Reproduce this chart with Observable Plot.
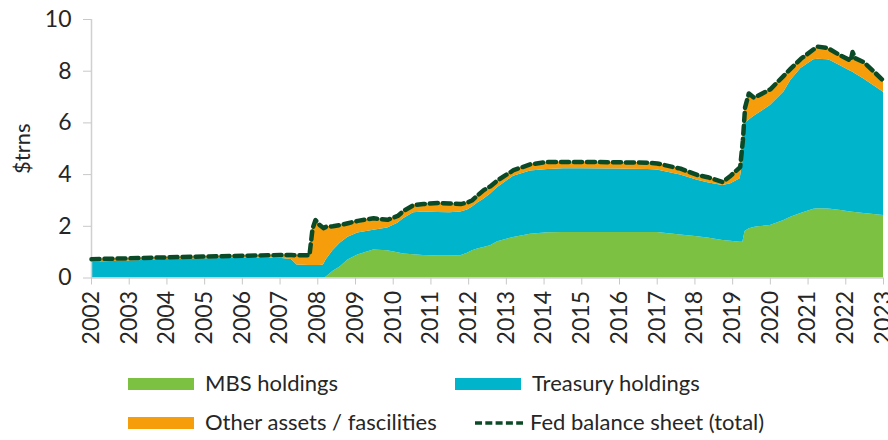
<!DOCTYPE html>
<html>
<head>
<meta charset="utf-8">
<script src="https://cdn.jsdelivr.net/npm/d3@7"></script>
<script src="https://cdn.jsdelivr.net/npm/@observablehq/plot@0.6"></script>
<style>
  html, body { margin: 0; padding: 0; background: #fff; }
  #wrap { position: relative; width: 888px; height: 440px; font-family: Lato, "Open Sans", sans-serif; color: #262626; }
  .sw { position: absolute; height: 12px; }
  .lt { position: absolute; font-size: 22px; line-height: 22px; white-space: nowrap; }
  .dash { position: absolute; }
</style>
</head>
<body>
<div id="wrap"></div>
<script>
// Chart x coordinates (as drawn against the year ticks)
const years = [2002.0, 2003.0, 2004.0, 2005.0, 2006.0, 2007.0, 2007.3, 2007.45, 2007.78, 2007.86,
  2007.94, 2008.05, 2008.15, 2008.22, 2008.4, 2008.6, 2008.8, 2009.06, 2009.48, 2009.85,
  2010.12, 2010.28, 2010.54, 2010.8, 2011.18, 2011.5, 2011.79, 2011.97, 2012.1, 2012.24,
  2012.4, 2012.58, 2012.77, 2013.19, 2013.64, 2014.1, 2014.52, 2015.0, 2015.85, 2016.75,
  2017.0, 2017.62, 2018.07, 2018.34, 2018.74, 2018.95, 2019.2, 2019.27, 2019.33, 2019.43,
  2019.56, 2019.67, 2020.0, 2020.36, 2020.54, 2020.81, 2021.15, 2021.26, 2021.52, 2021.6,
  2021.87, 2022.13, 2022.18, 2022.25, 2022.48, 2023.0];

// $ trillions
const mbs = [0, 0, 0, 0, 0, 0, 0, 0, 0, 0,
  0, 0, 0, 0.03, 0.25, 0.44, 0.70, 0.89, 1.08, 1.05,
  0.98, 0.93, 0.90, 0.87, 0.85, 0.85, 0.86, 0.96, 1.05, 1.12,
  1.18, 1.25, 1.40, 1.57, 1.69, 1.75, 1.76, 1.76, 1.76, 1.76,
  1.76, 1.66, 1.60, 1.55, 1.45, 1.42, 1.38, 1.38, 1.80, 1.90,
  1.95, 1.98, 2.03, 2.22, 2.35, 2.50, 2.66, 2.68, 2.67, 2.66,
  2.61, 2.55, 2.54, 2.53, 2.50, 2.42];

const treasury = [0.62, 0.66, 0.72, 0.74, 0.76, 0.76, 0.72, 0.50, 0.48, 0.48,
  0.48, 0.48, 0.50, 0.67, 0.80, 0.91, 0.88, 0.85, 0.77, 0.88,
  1.14, 1.37, 1.62, 1.68, 1.68, 1.67, 1.69, 1.67, 1.70, 1.78,
  1.87, 2.00, 2.10, 2.37, 2.45, 2.45, 2.47, 2.47, 2.46, 2.44,
  2.42, 2.32, 2.18, 2.13, 2.13, 2.23, 2.46, 3.12, 4.16, 4.20,
  4.30, 4.37, 4.64, 4.98, 5.29, 5.60, 5.78, 5.78, 5.77, 5.74,
  5.59, 5.45, 5.43, 5.37, 5.20, 4.77];

const other = [0.11, 0.10, 0.08, 0.09, 0.10, 0.13, 0.17, 0.38, 0.40, 1.42,
  1.76, 1.57, 1.43, 1.28, 0.95, 0.70, 0.54, 0.47, 0.46, 0.32,
  0.28, 0.30, 0.30, 0.31, 0.37, 0.36, 0.31, 0.29, 0.26, 0.30,
  0.35, 0.30, 0.28, 0.23, 0.26, 0.29, 0.26, 0.26, 0.26, 0.26,
  0.25, 0.25, 0.20, 0.22, 0.13, 0.31, 0.45, 0.80, 0.64, 1.04,
  0.73, 0.70, 0.63, 0.63, 0.46, 0.38, 0.41, 0.49, 0.46, 0.43,
  0.40, 0.41, 0.77, 0.60, 0.65, 0.44];

const seriesNames = ["MBS holdings", "Treasury holdings", "Other assets / fascilities"];
const lineName = "Fed balance sheet (total)";
const seriesColors = ["#7CC142", "#00B4CB", "#F59D0A"];
const lineColor = "#0B4A26";
const yearTicks = d3.range(2002, 2024);
const yTicks = [0, 2, 4, 6, 8, 10];
const yLabel = "$trns";

const long = [];
years.forEach((yr, i) => {
  long.push({year: yr, value: mbs[i], series: seriesNames[0]});
  long.push({year: yr, value: treasury[i], series: seriesNames[1]});
  long.push({year: yr, value: other[i], series: seriesNames[2]});
});
const totals = years.map((yr, i) => ({year: yr, total: mbs[i] + treasury[i] + other[i]}));

const H = 345;
const chart = Plot.plot({
  width: 888,
  height: H,
  marginLeft: 91,
  marginRight: 5,
  marginTop: 19,
  marginBottom: H - 277.5,
  x: {domain: [2002, 2023], label: null},
  y: {domain: [0, 10], label: null},
  color: {domain: seriesNames, range: seriesColors},
  style: {fontFamily: "Lato, 'Open Sans', sans-serif", fontSize: "22px", color: "#262626", background: "#fff"},
  marks: [
    Plot.areaY(long, Plot.stackY({x: "year", y: "value", fill: "series", order: seriesNames})),
    Plot.ruleX([2002], {stroke: "#d0d0d0", strokeWidth: 1.5}),
    Plot.ruleY([0], {stroke: "#d0d0d0", strokeWidth: 1.5}),
    Plot.lineY(totals, {x: "year", y: "total", stroke: lineColor, strokeWidth: 4.5, strokeDasharray: "8,5"}),
    Plot.axisY({ticks: yTicks, tickSize: 8, tickPadding: 12, stroke: "#c8c8c8", fill: "#262626", fontSize: 23, label: null}),
    Plot.axisX({ticks: yearTicks, tickSize: 7, tickPadding: 6, tickRotate: -90, tickFormat: d => String(d), stroke: "#c8c8c8", fill: "#262626", fontSize: 23, label: null}),
    Plot.text([yLabel], {frameAnchor: "left", text: d => d, rotate: -90, textAnchor: "middle", lineAnchor: "middle", dx: -69, fontSize: 22, fill: "#262626"})
  ]
});

const wrap = document.getElementById("wrap");
chart.style.position = "absolute";
chart.style.left = "0px";
chart.style.top = "0px";
wrap.appendChild(chart);

// Legend (HTML, below the SVG)
const legendItems = [
  {label: seriesNames[0], color: seriesColors[0], x: 128, y: 378, type: "swatch"},
  {label: seriesNames[1], color: seriesColors[1], x: 455, y: 378, type: "swatch"},
  {label: seriesNames[2], color: seriesColors[2], x: 128, y: 417, type: "swatch"},
  {label: lineName, color: lineColor, x: 475, y: 417, type: "line"}
];
legendItems.forEach(it => {
  if (it.type === "swatch") {
    const s = document.createElement("div");
    s.className = "sw";
    s.style.left = it.x + "px";
    s.style.top = it.y + "px";
    s.style.width = "66px";
    s.style.background = it.color;
    wrap.appendChild(s);
  } else {
    const ns = "http://www.w3.org/2000/svg";
    const sv = document.createElementNS(ns, "svg");
    sv.setAttribute("width", "50");
    sv.setAttribute("height", "12");
    sv.setAttribute("class", "dash");
    sv.style.left = it.x + "px";
    sv.style.top = it.y + "px";
    const ln = document.createElementNS(ns, "line");
    ln.setAttribute("x1", "0"); ln.setAttribute("x2", "48");
    ln.setAttribute("y1", "6"); ln.setAttribute("y2", "6");
    ln.setAttribute("stroke", it.color);
    ln.setAttribute("stroke-width", "3.5");
    ln.setAttribute("stroke-dasharray", "7,3.3");
    sv.appendChild(ln);
    wrap.appendChild(sv);
  }
  const t = document.createElement("div");
  t.className = "lt";
  t.textContent = it.label;
  t.style.left = (it.type === "swatch" ? it.x + 77 : 530) + "px";
  t.style.top = (it.y - 6) + "px";
  wrap.appendChild(t);
});
</script>
</body>
</html>
